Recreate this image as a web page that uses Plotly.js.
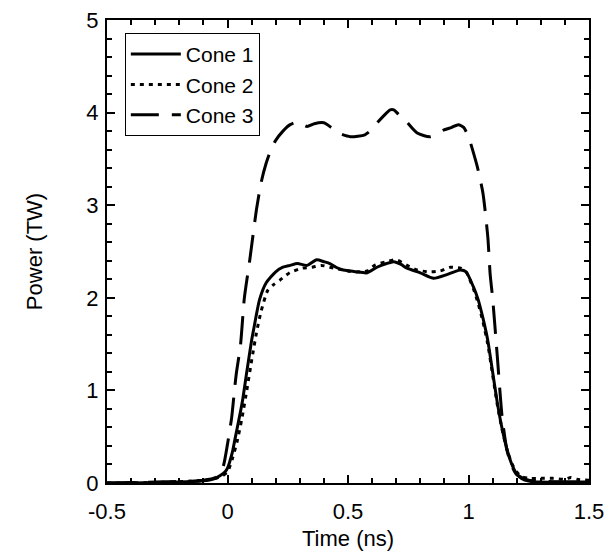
<!DOCTYPE html>
<html>
<head>
<meta charset="utf-8">
<script src="https://cdn.plot.ly/plotly-3.0.1.min.js"></script>
<style>html,body{margin:0;padding:0;background:#fff;}#chart{width:606px;height:554px;}</style>
</head>
<body>
<div id="chart"></div>
<script>
// Cone 1 (solid)
const cone1Time = [-0.5,-0.4,-0.3,-0.2,-0.15,-0.1,-0.07,-0.05,-0.03,-0.01,0,0.02,0.03,0.05,0.063,0.08,0.1,0.11,0.133,0.16,0.2,0.23,0.26,0.29,0.33,0.37,0.4,0.425,0.45,0.48,0.51,0.536,0.58,0.62,0.66,0.69,0.72,0.745,0.8,0.855,0.91,0.94,0.967,0.99,1.02,1.04,1.06,1.08,1.1,1.12,1.14,1.16,1.18,1.2,1.22,1.25,1.3,1.4,1.5];
const cone1Power = [0,0,0.005,0.01,0.015,0.025,0.035,0.05,0.08,0.12,0.16,0.33,0.46,0.72,0.9,1.2,1.54,1.68,1.98,2.16,2.28,2.33,2.35,2.37,2.35,2.41,2.39,2.37,2.33,2.3,2.29,2.28,2.27,2.33,2.37,2.39,2.36,2.32,2.27,2.21,2.25,2.28,2.3,2.28,2.12,1.98,1.78,1.54,1.2,0.86,0.58,0.36,0.2,0.1,0.05,0.02,0.01,0.01,0.01];

// Cone 2 (dotted)
const cone2Time = [-0.5,-0.3,-0.15,-0.1,-0.05,-0.02,0,0.02,0.04,0.06,0.08,0.1,0.12,0.14,0.167,0.19,0.217,0.258,0.31,0.35,0.39,0.44,0.48,0.53,0.58,0.61,0.66,0.70,0.745,0.787,0.835,0.883,0.925,0.967,0.99,1.02,1.04,1.06,1.08,1.1,1.12,1.14,1.16,1.18,1.2,1.22,1.25,1.3,1.35,1.4,1.425,1.45,1.5];
const cone2Power = [0,0.005,0.02,0.03,0.05,0.08,0.12,0.26,0.45,0.7,1.0,1.32,1.62,1.86,2.08,2.14,2.19,2.27,2.32,2.33,2.35,2.32,2.3,2.28,2.29,2.35,2.39,2.41,2.35,2.3,2.28,2.29,2.33,2.32,2.28,2.1,1.94,1.74,1.5,1.17,0.84,0.57,0.36,0.21,0.12,0.07,0.05,0.05,0.05,0.04,0.06,0.04,0.03];

// Cone 3 (dashed)
const cone3Time = [-0.5,-0.3,-0.15,-0.1,-0.05,-0.02,0,0.008,0.017,0.03,0.037,0.054,0.07,0.092,0.12,0.14,0.16,0.18,0.2,0.23,0.26,0.29,0.33,0.36,0.4,0.43,0.46,0.51,0.57,0.6,0.625,0.65,0.675,0.69,0.71,0.737,0.787,0.84,0.896,0.93,0.958,0.98,1.0,1.02,1.037,1.06,1.08,1.09,1.1,1.12,1.14,1.16,1.18,1.2,1.25,1.3,1.4,1.5];
const cone3Power = [0,0.01,0.02,0.03,0.06,0.16,0.42,0.55,0.7,1.03,1.19,1.49,2.0,2.4,2.95,3.25,3.45,3.6,3.7,3.8,3.87,3.9,3.85,3.88,3.89,3.84,3.78,3.74,3.76,3.82,3.9,3.97,4.03,4.03,3.98,3.92,3.78,3.74,3.81,3.84,3.87,3.84,3.74,3.57,3.41,3.13,2.66,2.25,2.0,1.35,0.7,0.35,0.18,0.09,0.03,0.02,0.01,0.01];

const seriesNames = ['Cone 1','Cone 2','Cone 3'];
const xTickVals = [-0.5,0,0.5,1,1.5];
const xTickText = ['-0.5','0','0.5','1','1.5'];
const yTickVals = [0,1,2,3,4,5];
const yTickText = ['0','1','2','3','4','5'];

const FONT = 'Liberation Sans, Arial, Helvetica, sans-serif';
const FS = 22;

const traces = [
  {x: cone1Time, y: cone1Power, name: seriesNames[0], mode: 'lines',
   line: {color: '#000', width: 3, shape: 'spline', smoothing: 0.6}},
  {x: cone2Time, y: cone2Power, name: seriesNames[1], mode: 'lines',
   line: {color: '#000', width: 3, dash: '4px,5px', shape: 'spline', smoothing: 0.6}},
  {x: cone3Time, y: cone3Power, name: seriesNames[2], mode: 'lines',
   line: {color: '#000', width: 3, dash: '28px,13px', shape: 'spline', smoothing: 0.6}}
];

const axisCommon = {
  showline: true, linecolor: '#000', linewidth: 2, mirror: 'ticks',
  ticks: 'inside', ticklen: 8, tickwidth: 2, tickcolor: '#000',
  showgrid: false, zeroline: false,
  tickfont: {family: FONT, size: FS, color: '#000'}
};

const layout = {
  width: 606, height: 554,
  margin: {l: 107, r: 17, t: 20, b: 71},
  paper_bgcolor: '#fff', plot_bgcolor: '#fff',
  font: {family: FONT, size: FS, color: '#000'},
  showlegend: true,
  legend: {
    x: 0.037, y: 0.972, xanchor: 'left', yanchor: 'top',
    bgcolor: '#fff', bordercolor: '#000', borderwidth: 1,
    font: {family: FONT, size: 21, color: '#000'},
    itemwidth: 50, tracegroupgap: 0
  },
  xaxis: Object.assign({}, axisCommon, {
    range: [-0.5, 1.5], tickmode: 'array', tickvals: xTickVals, ticktext: xTickText,
    ticklabelstandoff: 8,
    minor: {dtick: 0.1, ticks: 'inside', ticklen: 5, tickwidth: 2, tickcolor: '#000', showgrid: false},
    title: {text: 'Time (ns)', font: {family: FONT, size: FS, color: '#000'}, standoff: 7}
  }),
  yaxis: Object.assign({}, axisCommon, {
    range: [0, 5], tickmode: 'array', tickvals: yTickVals, ticktext: yTickText,
    ticklabelstandoff: 2,
    minor: {dtick: 0.2, ticks: 'inside', ticklen: 5, tickwidth: 2, tickcolor: '#000', showgrid: false},
    title: {text: 'Power (TW)', font: {family: FONT, size: FS, color: '#000'}, standoff: 38}
  })
};

Plotly.newPlot('chart', traces, layout, {staticPlot: true, displayModeBar: false});
</script>
</body>
</html>
